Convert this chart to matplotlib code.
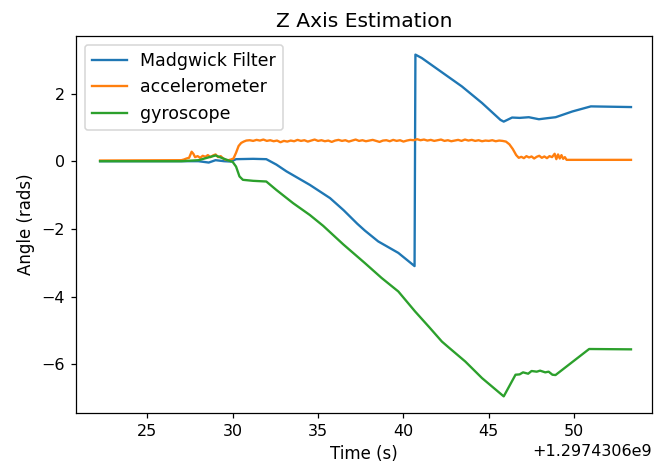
import numpy as np
import matplotlib
matplotlib.use("Agg")
import matplotlib.pyplot as plt

plt.rcParams["font.size"] = 11.2
plt.rcParams["xtick.labelsize"] = 10.3
plt.rcParams["ytick.labelsize"] = 10.3
plt.rcParams["axes.labelsize"] = 10.7
plt.rcParams["axes.titlesize"] = 13.0

T0 = 1297430600.0  # time base (s)

# Madgwick filter estimate
mad_t = [22.24, 28.0, 28.6, 29.0, 29.5, 29.9, 30.2, 31.2, 31.97, 32.56, 33.15,
         34.52, 35.7, 36.5, 37.3, 37.74, 38.52, 39.7, 40.65,
         40.70, 41.07, 42.44, 43.42, 44.6, 45.68, 45.87, 46.36, 46.8, 47.34,
         47.93, 48.4, 48.91, 49.89, 50.97, 53.32]
mad_v = [0.0, 0.0, -0.04, 0.03, 0.0, -0.01, 0.06, 0.07, 0.06, -0.1, -0.3,
         -0.7, -1.09, -1.45, -1.85, -2.05, -2.37, -2.71, -3.1,
         3.15, 3.05, 2.56, 2.21, 1.72, 1.22, 1.17, 1.29, 1.28, 1.30,
         1.24, 1.27, 1.30, 1.47, 1.62, 1.60]

# Accelerometer estimate
acc_t = [22.24, 27.0, 27.15, 27.3, 27.45, 27.6, 27.7, 27.8, 27.95, 28.1, 28.25,
         28.4, 28.55, 28.7, 28.85, 29.0, 29.15, 29.3, 29.45, 29.6, 29.75, 29.9,
         30.05, 30.2, 30.35, 30.5, 30.65, 30.8,
         31.0, 31.2, 31.4, 31.6, 31.8, 32.0, 32.2, 32.4, 32.6, 32.8,
         33.0, 33.2, 33.4, 33.6, 33.8, 34.0, 34.2, 34.4, 34.6, 34.8,
         35.0, 35.2, 35.4, 35.6, 35.8, 36.0, 36.2, 36.4, 36.6, 36.8,
         37.0, 37.2, 37.4, 37.6, 37.8, 38.0, 38.2, 38.4, 38.6, 38.8,
         39.0, 39.2, 39.4, 39.6, 39.8, 40.0, 40.2, 40.4, 40.6, 40.8,
         41.0, 41.2, 41.4, 41.6, 41.8, 42.0, 42.2, 42.4, 42.6, 42.8,
         43.0, 43.2, 43.4, 43.6, 43.8, 44.0, 44.2, 44.4, 44.6, 44.8,
         45.0, 45.2, 45.4, 45.6, 45.8, 46.0, 46.2, 46.4, 46.6, 46.75,
         46.9, 47.05, 47.2, 47.35, 47.5, 47.65, 47.8, 47.95, 48.1, 48.25,
         48.4, 48.55, 48.7, 48.85, 48.95, 49.05, 49.15, 49.25, 49.35, 49.45,
         49.55, 53.32]
acc_v = [0.02, 0.03, 0.05, 0.08, 0.10, 0.28, 0.22, 0.12, 0.15, 0.10, 0.16,
         0.13, 0.18, 0.12, 0.17, 0.20, 0.12, 0.15, 0.08, 0.04, 0.03, 0.05,
         0.08, 0.25, 0.45, 0.54, 0.58, 0.61,
         0.62, 0.60, 0.63, 0.61, 0.64, 0.60, 0.62, 0.59, 0.61, 0.56,
         0.60, 0.58, 0.61, 0.59, 0.63, 0.60, 0.62, 0.58, 0.61, 0.64,
         0.60, 0.62, 0.59, 0.61, 0.57, 0.61, 0.63, 0.60, 0.62, 0.58,
         0.61, 0.64, 0.60, 0.62, 0.59, 0.61, 0.63, 0.60, 0.57, 0.61,
         0.62, 0.59, 0.63, 0.60, 0.62, 0.58, 0.61, 0.63, 0.62, 0.65,
         0.62, 0.64, 0.61, 0.63, 0.60, 0.62, 0.64, 0.60, 0.62, 0.59,
         0.61, 0.63, 0.60, 0.64, 0.61, 0.63, 0.60, 0.62, 0.59, 0.61,
         0.60, 0.62, 0.59, 0.61, 0.60, 0.58, 0.50, 0.36, 0.18, 0.10,
         0.13, 0.09, 0.15, 0.11, 0.14, 0.08, 0.13, 0.16, 0.10, 0.14,
         0.09, 0.15, 0.12, 0.22, 0.06, 0.20, 0.08, 0.18, 0.07, 0.12,
         0.04, 0.04]

# Gyroscope integration
gyr_t = [22.24, 27.0, 28.0, 28.5, 29.0, 29.6, 30.0, 30.2, 30.4, 30.6, 31.2,
         31.97, 32.56, 33.54, 34.52, 35.3, 36.48, 37.74, 38.72, 39.7, 40.68,
         41.5, 42.25, 42.64, 43.62, 44.6, 45.87, 46.56, 46.8, 47.0, 47.3,
         47.5, 47.8, 48.0, 48.3, 48.5, 48.72, 48.9, 50.87, 53.32]
gyr_v = [0.0, 0.0, 0.03, 0.10, 0.17, 0.05, -0.02, -0.16, -0.45, -0.55, -0.58,
         -0.6, -0.85, -1.24, -1.59, -1.91, -2.46, -3.01, -3.45, -3.85, -4.44,
         -4.9, -5.33, -5.5, -5.92, -6.41, -6.95, -6.31, -6.30, -6.24, -6.28,
         -6.20, -6.22, -6.19, -6.24, -6.22, -6.31, -6.32, -5.55, -5.56]

fig = plt.figure(figsize=(654 / 112, 470 / 112), dpi=112)
ax = fig.add_axes([76 / 654, 1 - 413.3 / 470, (652 - 76) / 654, (413.3 - 36) / 470])

ax.plot(T0 + np.array(mad_t), mad_v, label="Madgwick Filter")
ax.plot(T0 + np.array(acc_t), acc_v, label="accelerometer")
ax.plot(T0 + np.array(gyr_t), gyr_v, label="gyroscope")

ax.set_xlim(T0 + 20.83, T0 + 54.55)
ax.set_ylim(-7.45, 3.70)
ax.set_title("Z Axis Estimation")
ax.set_xlabel("Time (s)")
ax.set_ylabel("Angle (rads)")
ax.legend(loc="upper left", fontsize=11.2)

fig.savefig("out.png", dpi=112)
